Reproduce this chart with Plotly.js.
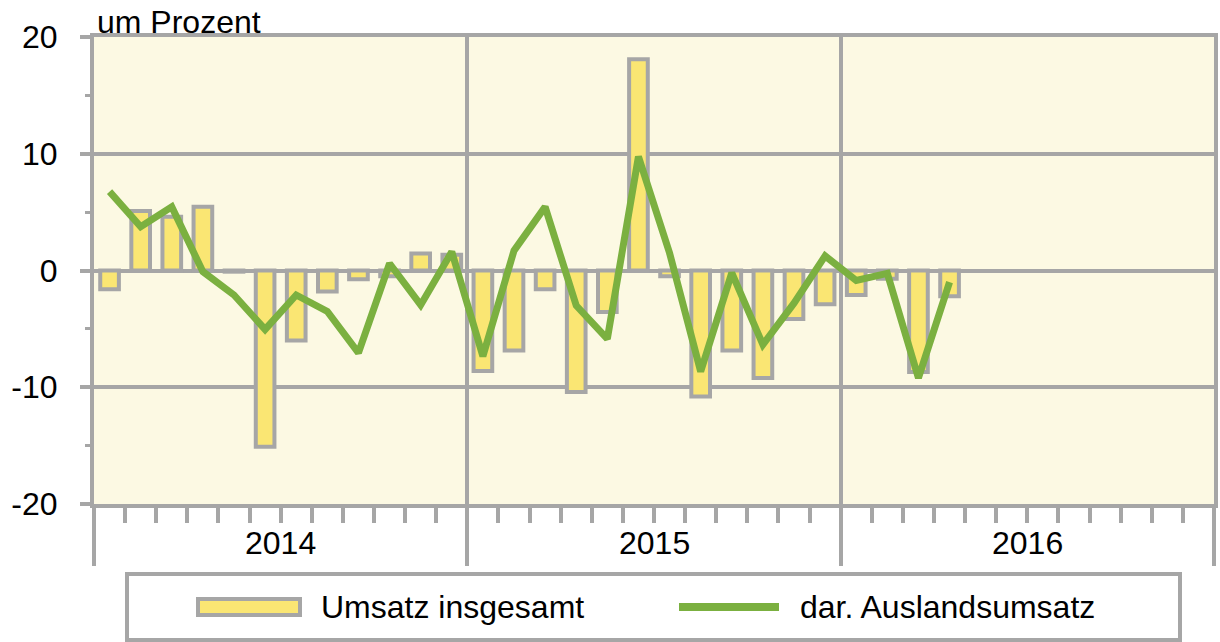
<!DOCTYPE html>
<html>
<head>
<meta charset="utf-8">
<script src="https://cdn.plot.ly/plotly-3.0.1.min.js"></script>
<style>html,body{margin:0;padding:0;background:#fff;}#chart{width:1220px;height:642px;}</style>
</head>
<body>
<div id="chart"></div>
<script>
// Month categories (Jan 2014 .. Dec 2016)
const years = ["2014", "2015", "2016"];
const monthNames = ["Jan","Feb","Mär","Apr","Mai","Jun","Jul","Aug","Sep","Okt","Nov","Dez"];
const months = [];
years.forEach(y => monthNames.forEach(m => months.push(m + " " + y)));

// Veränderung gegenüber Vormonat, um Prozent
const umsatzInsgesamt = [
  -1.6, 5.1, 4.6, 5.45, -0.1, -15.1, -6.0, -1.8, -0.75, -0.5, 1.45, 1.35,
  -8.6, -6.85, -1.6, -10.4, -3.55, 18.1, -0.5, -10.8, -6.85, -9.2, -4.15, -2.9,
  -2.1, -0.7, -8.7, -2.2, null, null, null, null, null, null, null, null
];
const auslandsumsatz = [
  6.75, 3.75, 5.45, -0.1, -2.1, -5.05, -2.1, -3.5, -7.05, 0.6, -2.95, 1.6,
  -7.35, 1.7, 5.45, -3.0, -5.85, 9.75, 1.5, -8.65, -0.2, -6.35, -2.8, 1.25,
  -0.85, -0.25, -9.2, -1.0, null, null, null, null, null, null, null, null
];
const seriesNames = ["Umsatz insgesamt", "dar. Auslandsumsatz"];
const yTitle = "um Prozent";
const yTickVals = [-20, -10, 0, 10, 20];
const yTickText = ["-20", "-10", "0", "10", "20"];

const xIdx = months.map((_, i) => i);
const grey = "#A6A6A6";
const font = "Arial, 'Liberation Sans', Helvetica, sans-serif";
const fs = 32;

// layout geometry (pixels)
const L = 94, R = 1220 - 1214, T = 37, B = 642 - 504;
const W = 1220 - L - R, H = 642 - T - B;
const px = x => (x - L) / W;
const py = y => (642 - B - y) / H;

const traces = [
  {
    type: "bar", x: xIdx, y: umsatzInsgesamt, width: 0.6,
    marker: {color: "#FAE673", line: {color: grey, width: 4}},
    name: seriesNames[0], showlegend: false, hoverinfo: "y"
  },
  {
    type: "scatter", mode: "lines", x: xIdx, y: auslandsumsatz,
    line: {color: "#7BB040", width: 7}, connectgaps: false,
    name: seriesNames[1], showlegend: false, hoverinfo: "y"
  }
];

const yearCenters = years.map((_, i) => i * 12 + 5.5);
const yearBounds = [-0.5, 11.5, 23.5, 35.5];

const annotations = years.map((y, i) => ({
  x: yearCenters[i], xref: "x", y: py(543), yref: "paper",
  text: y, showarrow: false, xanchor: "center", yanchor: "middle",
  font: {family: font, size: fs, color: "#000"}
}));
annotations.push({
  x: px(95), xref: "paper", y: py(22), yref: "paper", text: yTitle,
  showarrow: false, xanchor: "left", yanchor: "middle",
  font: {family: font, size: fs, color: "#000"}
});
annotations.push({
  x: px(319), xref: "paper", y: py(607), yref: "paper", text: seriesNames[0],
  showarrow: false, xanchor: "left", yanchor: "middle",
  font: {family: font, size: fs, color: "#000"}
});
annotations.push({
  x: px(798), xref: "paper", y: py(607), yref: "paper", text: seriesNames[1],
  showarrow: false, xanchor: "left", yanchor: "middle",
  font: {family: font, size: fs, color: "#000"}
});

const shapes = [
  // legend frame
  {type: "rect", xref: "paper", yref: "paper", x0: px(127), x1: px(1180), y0: py(574), y1: py(640),
   line: {color: grey, width: 4}, fillcolor: "#fff", layer: "below"},
  // legend bar symbol
  {type: "rect", xref: "paper", yref: "paper", x0: px(198), x1: px(300), y0: py(599), y1: py(615),
   line: {color: grey, width: 4}, fillcolor: "#FAE673"},
  // legend line symbol
  {type: "line", xref: "paper", yref: "paper", x0: px(679), x1: px(779), y0: py(607), y1: py(607),
   line: {color: "#7BB040", width: 8}}
];

const layout = {
  width: 1220, height: 642,
  margin: {l: L, r: R, t: T, b: B, pad: 0},
  paper_bgcolor: "#ffffff", plot_bgcolor: "#FCF9E3",
  showlegend: false,
  font: {family: font, size: fs, color: "#000"},
  xaxis: {
    range: [-0.5, 35.5], tickmode: "array", tickvals: yearBounds, ticktext: ["", "", "", ""],
    ticks: "outside", ticklen: 58, tickwidth: 4, tickcolor: grey,
    showgrid: true, gridcolor: grey, gridwidth: 4,
    showline: true, linecolor: grey, linewidth: 4, mirror: true, zeroline: false,
    minor: {tickmode: "linear", tick0: -0.5, dtick: 1, ticks: "outside", ticklen: 15, tickwidth: 4, tickcolor: grey, showgrid: false},
    fixedrange: true
  },
  yaxis: {
    range: [-20, 20], tickmode: "array", tickvals: yTickVals, ticktext: yTickText,
    ticks: "outside", ticklen: 10, tickwidth: 4, tickcolor: grey,
    showgrid: true, gridcolor: grey, gridwidth: 4,
    showline: true, linecolor: grey, linewidth: 4, mirror: true, zeroline: false,
    minor: {tickmode: "linear", tick0: 0, dtick: 5, ticks: "outside", ticklen: 5, tickwidth: 3, tickcolor: grey, showgrid: false},
    tickfont: {family: font, size: fs, color: "#000"}, ticklabelstandoff: 16,
    fixedrange: true
  },
  annotations: annotations,
  shapes: shapes
};

Plotly.newPlot("chart", traces, layout, {displayModeBar: false, staticPlot: true});
</script>
</body>
</html>
